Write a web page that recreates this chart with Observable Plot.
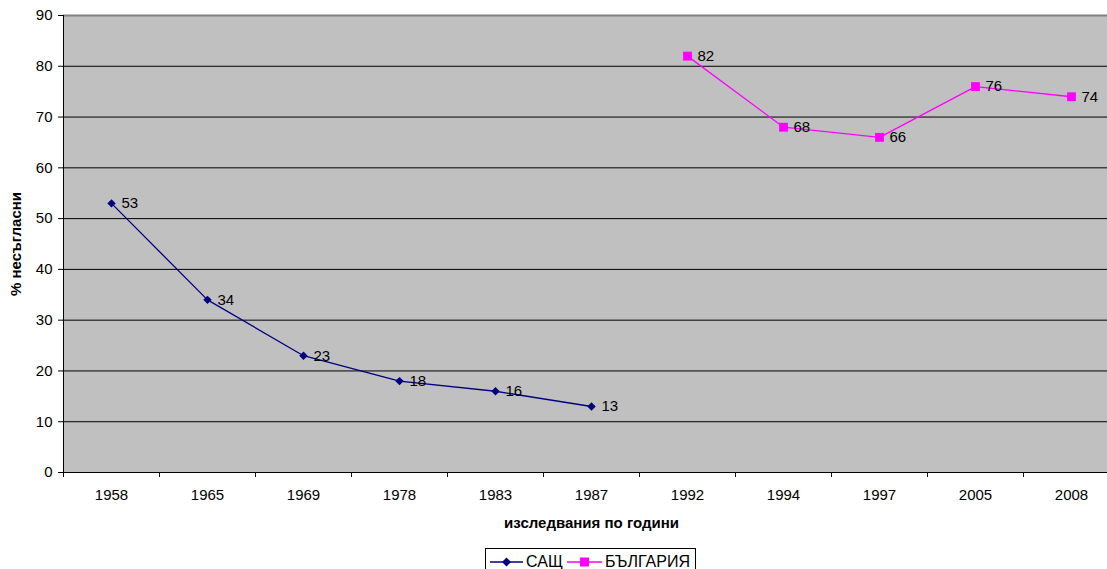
<!DOCTYPE html>
<html><head><meta charset="utf-8">
<script src="https://cdn.jsdelivr.net/npm/d3@7"></script>
<script src="https://cdn.jsdelivr.net/npm/@observablehq/plot@0.6"></script>
<style>
body{margin:0;background:#fff;font-family:"Liberation Sans",Arial,sans-serif;overflow:hidden;}
#chart svg{display:block;}
#chart g[aria-label="y-axis label"] text, #chart g[aria-label="x-axis label"] text{font-weight:bold;}
#legend{position:absolute;left:485px;top:548px;width:209px;height:26px;border:1px solid #000;background:#fff;display:flex;align-items:center;font-size:16px;color:#000;}
#legend span{display:inline-flex;align-items:center;}
</style></head><body>
<div id="chart"></div>
<div id="legend"></div>
<script>
const years = ["1958","1965","1969","1978","1983","1987","1992","1994","1997","2005","2008"];
const usaYears = ["1958","1965","1969","1978","1983","1987"];
const usaValues = [53,34,23,18,16,13];
const bgYears = ["1992","1994","1997","2005","2008"];
const bgValues = [82,68,66,76,74];
const yTicks = [0,10,20,30,40,50,60,70,80,90];
const seriesNames = ["САЩ","БЪЛГАРИЯ"];
const usaColor = "#000080", bgColor = "#ff00ff";

const pos = y => years.indexOf(y) + 0.5;
const usa = usaYears.map((y,i)=>({x:pos(y), v:usaValues[i]}));
const bg = bgYears.map((y,i)=>({x:pos(y), v:bgValues[i]}));

const chart = Plot.plot({
  width: 1107, height: 535,
  marginLeft: 63, marginRight: -12, marginTop: 15, marginBottom: 63,
  style: {fontFamily: '"Liberation Sans", Arial, sans-serif', fontSize: "15px", color: "#000", background: "#fff"},
  x: {type: "linear", domain: [0, years.length]},
  y: {domain: [0, 90]},
  marks: [
    Plot.frame({fill: "#c0c0c0", stroke: null}),
    Plot.ruleY(yTicks.slice(1, -1), {stroke: "#000", strokeWidth: 1}),
    Plot.ruleY([90], {stroke: "#808080", strokeWidth: 2}),
    Plot.ruleY([0], {stroke: "#000"}),
    Plot.ruleX([0], {stroke: "#000"}),
    Plot.axisY(yTicks, {tickSize: 5, tickPadding: 6, fontSize: 15, label: "% несъгласни", labelAnchor: "center", labelArrow: "none", labelOffset: 53}),
    Plot.axisX(years.map((d,i)=>i+0.5), {tickSize: 0, tickPadding: 17, fontSize: 15, tickFormat: v => years[Math.floor(v)], label: "изследвания по години", labelAnchor: "center", labelArrow: "none", labelOffset: 55}),
    Plot.axisX(d3.range(0, years.length + 1), {tickSize: 5, tickFormat: () => "", label: null}),
    Plot.line(usa, {x: "x", y: "v", stroke: usaColor, strokeWidth: 1.3}),
    Plot.line(bg, {x: "x", y: "v", stroke: bgColor, strokeWidth: 1.3}),
    Plot.dot(usa, {x: "x", y: "v", symbol: "diamond2", r: 3.8, fill: usaColor, stroke: null}),
    Plot.dot(bg, {x: "x", y: "v", symbol: "square", r: 5, fill: bgColor, stroke: null}),
    Plot.text(usa, {x: "x", y: "v", text: "v", dx: 10, textAnchor: "start", fontSize: 15, fill: "#000"}),
    Plot.text(bg, {x: "x", y: "v", text: "v", dx: 10, textAnchor: "start", fontSize: 15, fill: "#000"})
  ]
});
document.getElementById("chart").appendChild(chart);

const legend = document.getElementById("legend");
legend.innerHTML =
  `<span style="margin-left:4px"><svg width="33" height="12"><line x1="0" y1="6" x2="33" y2="6" stroke="${usaColor}" stroke-width="1.5"/><path d="M16.5,1.5L21,6L16.5,10.5L12,6Z" fill="${usaColor}"/></svg><span style="margin-left:3px">${seriesNames[0]}</span></span>` +
  `<span style="margin-left:4px"><svg width="35" height="12"><line x1="0" y1="6" x2="35" y2="6" stroke="${bgColor}" stroke-width="1.5"/><rect x="13" y="1.5" width="9" height="9" fill="${bgColor}"/></svg><span style="margin-left:3px">${seriesNames[1]}</span></span>`;
</script>
</body></html>
